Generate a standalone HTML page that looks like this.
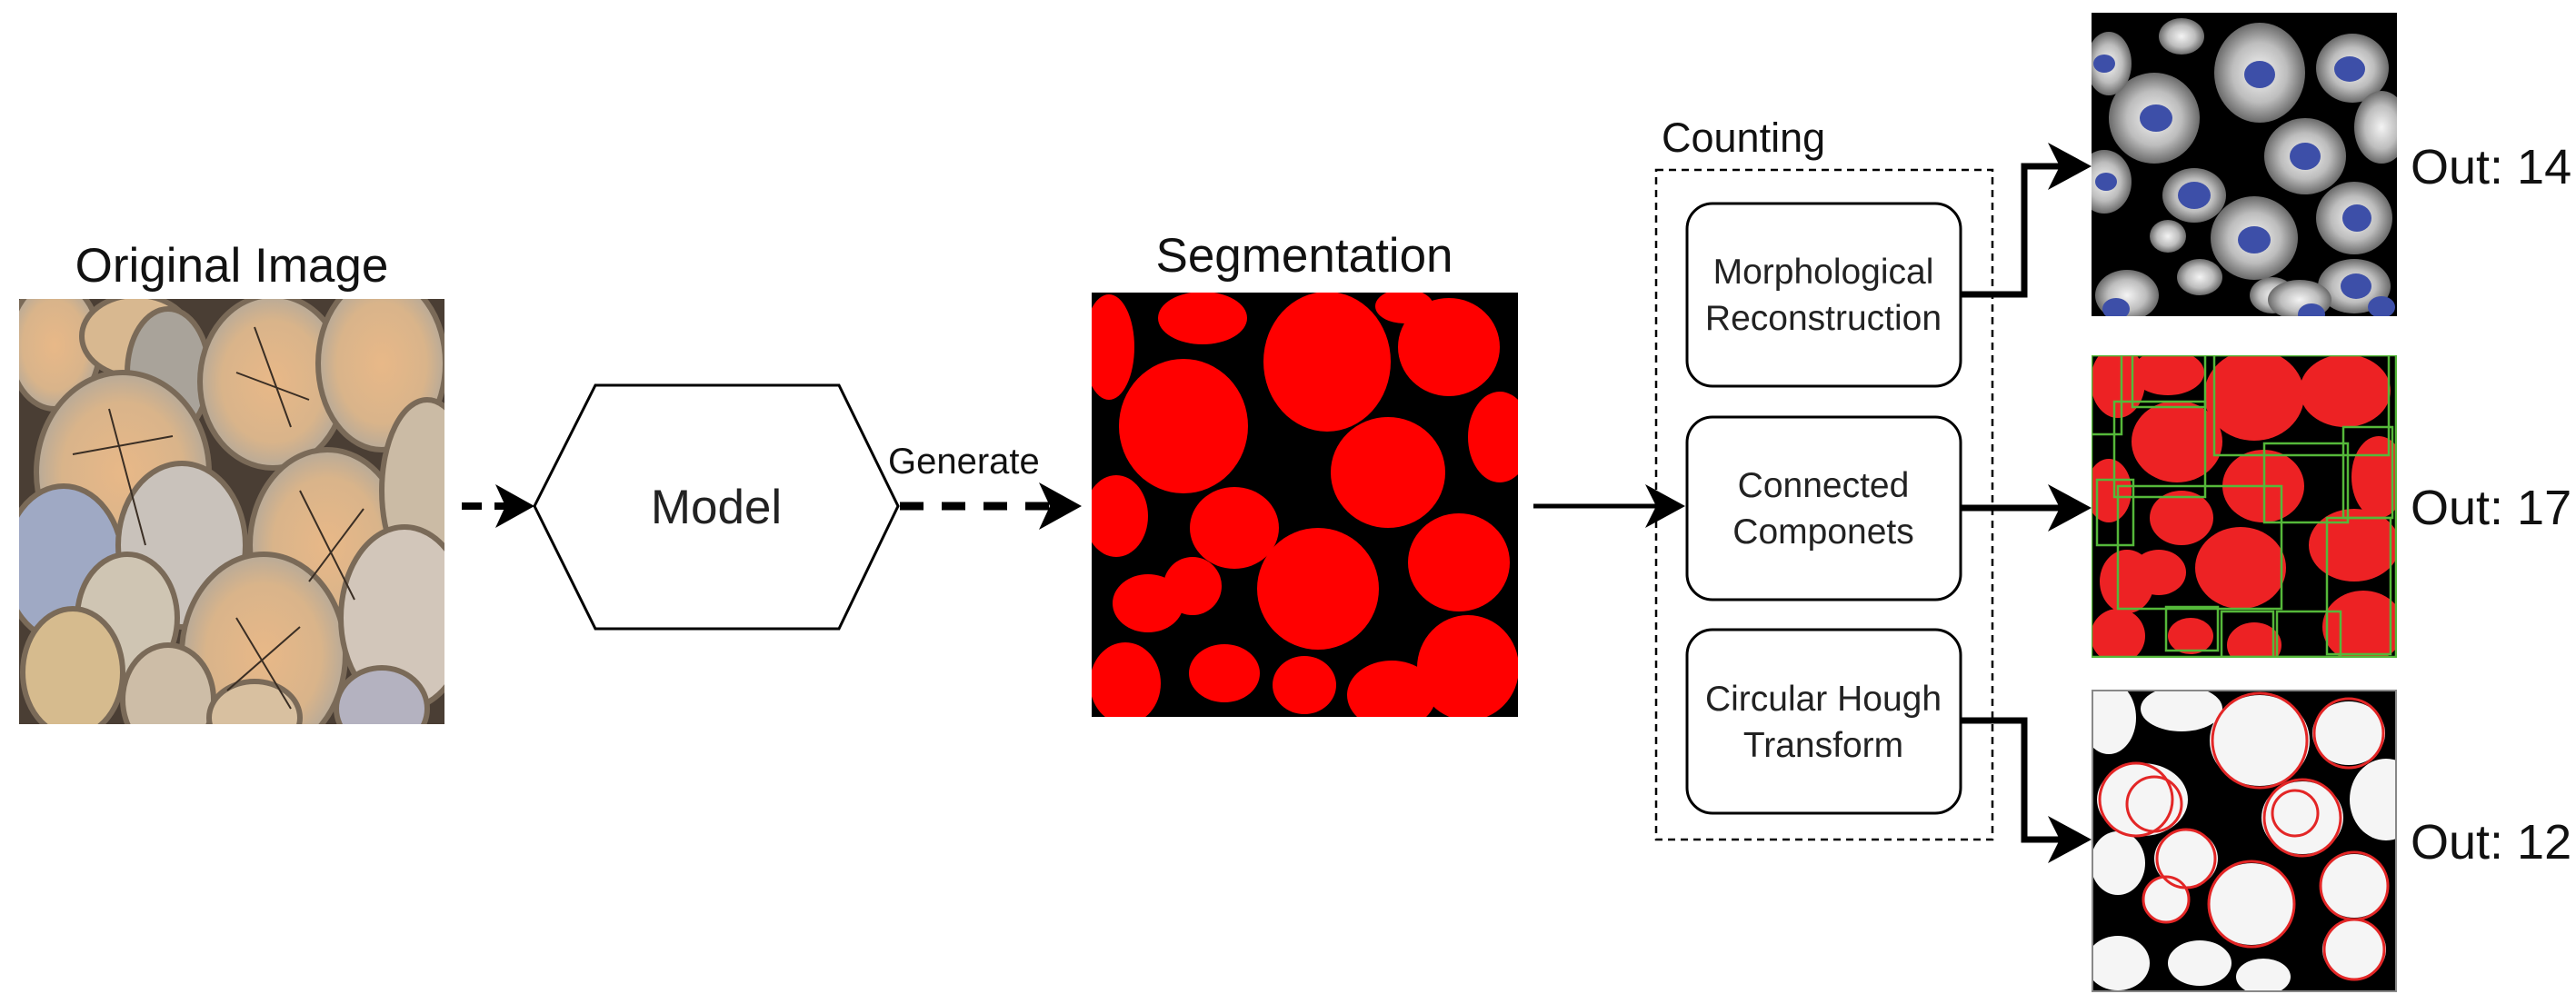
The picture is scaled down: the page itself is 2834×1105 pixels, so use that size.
<!DOCTYPE html>
<html><head><meta charset="utf-8">
<style>html,body{margin:0;padding:0;background:#fff;width:2834px;height:1105px;overflow:hidden}</style>
</head><body>
<svg width="2834" height="1105" viewBox="0 0 2834 1105" xmlns="http://www.w3.org/2000/svg" font-family="Liberation Sans, Arial, sans-serif">
<defs>
<radialGradient id="gg"><stop offset="0" stop-color="#f4f4f4"/><stop offset="0.6" stop-color="#bdbdbd"/><stop offset="1" stop-color="#6a6a6a"/></radialGradient>
<radialGradient id="wood"><stop offset="0" stop-color="#e8b888"/><stop offset="0.7" stop-color="#d9b48a"/><stop offset="1" stop-color="#b8aa98"/></radialGradient>
<clipPath id="c1"><rect x="21" y="329" width="468" height="468"/></clipPath>
<clipPath id="c2"><rect x="1201" y="322" width="469" height="467"/></clipPath>
<clipPath id="c3"><rect x="2301" y="14" width="336" height="334"/></clipPath>
<clipPath id="c4"><rect x="2301" y="391" width="336" height="333"/></clipPath>
<clipPath id="c5"><rect x="2301" y="759" width="336" height="333"/></clipPath>
</defs>

<!-- Original image -->
<text x="255" y="310" font-size="53" text-anchor="middle" fill="#111">Original Image</text>
<g clip-path="url(#c1)">
<rect x="21" y="329" width="468" height="468" fill="#4a3e34"/>
<g stroke="#7a6a58" stroke-width="6">
<ellipse cx="60" cy="380" rx="50" ry="70" fill="url(#wood)"/>
<ellipse cx="150" cy="370" rx="60" ry="45" fill="#d8b890"/>
<ellipse cx="185" cy="410" rx="45" ry="70" fill="#a9a39a"/>
<ellipse cx="300" cy="420" rx="80" ry="95" fill="url(#wood)"/>
<ellipse cx="420" cy="400" rx="70" ry="95" fill="url(#wood)"/>
<ellipse cx="135" cy="520" rx="95" ry="110" fill="url(#wood)"/>
<ellipse cx="360" cy="600" rx="85" ry="105" fill="url(#wood)"/>
<ellipse cx="470" cy="540" rx="50" ry="100" fill="#cbbba5"/>
<ellipse cx="70" cy="620" rx="65" ry="85" fill="#9fa9c4"/>
<ellipse cx="200" cy="600" rx="70" ry="90" fill="#c9c2bb"/>
<ellipse cx="290" cy="720" rx="90" ry="110" fill="url(#wood)"/>
<ellipse cx="445" cy="680" rx="70" ry="100" fill="#d2c6ba"/>
<ellipse cx="140" cy="680" rx="55" ry="70" fill="#cfc5b3"/>
<ellipse cx="80" cy="740" rx="55" ry="70" fill="#d6bb8e"/>
<ellipse cx="185" cy="770" rx="50" ry="60" fill="#cdbda7"/>
<ellipse cx="280" cy="790" rx="50" ry="40" fill="#d8c0a0"/>
<ellipse cx="420" cy="780" rx="50" ry="45" fill="#b4b2c0"/>
</g>
<g stroke="#3a2e24" stroke-width="2" fill="none">
<path d="M120 450 L160 600 M80 500 L190 480 M280 360 L320 470 M260 410 L340 440 M330 540 L390 660 M340 640 L400 560 M260 680 L320 780 M250 760 L330 690"/>
</g>
</g>

<!-- arrow 1 dashed -->
<line x1="508" y1="557" x2="570" y2="557" stroke="#000" stroke-width="8" stroke-dasharray="22,14"/>
<path d="M588 557 L545 533 L556 557 L545 581 Z" fill="#000"/>

<!-- Model hexagon -->
<polygon points="655,424 923,424 988,557 923,692 655,692 588,557" fill="#fff" stroke="#000" stroke-width="3"/>
<text x="788" y="576" font-size="53" text-anchor="middle" fill="#222">Model</text>

<!-- Generate arrow -->
<text x="977" y="521" font-size="40" fill="#111">Generate</text>
<line x1="990" y1="557" x2="1170" y2="557" stroke="#000" stroke-width="9" stroke-dasharray="26,20"/>
<path d="M1190 557 L1143 531 L1155 557 L1143 583 Z" fill="#000"/>

<!-- Segmentation -->
<text x="1435" y="299" font-size="53" text-anchor="middle" fill="#111">Segmentation</text>
<g clip-path="url(#c2)">
<rect x="1201" y="322" width="469" height="467" fill="#000"/>
<g fill="#ff0000">
<ellipse cx="1460" cy="398" rx="70" ry="77"/>
<ellipse cx="1302" cy="469" rx="71" ry="74"/>
<ellipse cx="1594" cy="382" rx="56" ry="54"/>
<ellipse cx="1527" cy="520" rx="63" ry="61"/>
<ellipse cx="1450" cy="648" rx="67" ry="67"/>
<ellipse cx="1605" cy="619" rx="56" ry="54"/>
<ellipse cx="1358" cy="581" rx="49" ry="45"/>
<ellipse cx="1228" cy="568" rx="35" ry="45"/>
<ellipse cx="1220" cy="382" rx="28" ry="58"/>
<ellipse cx="1323" cy="350" rx="49" ry="29"/>
<ellipse cx="1650" cy="481" rx="35" ry="50"/>
<ellipse cx="1615" cy="735" rx="56" ry="58"/>
<ellipse cx="1531" cy="765" rx="49" ry="38"/>
<ellipse cx="1435" cy="754" rx="35" ry="32"/>
<ellipse cx="1347" cy="741" rx="39" ry="32"/>
<ellipse cx="1238" cy="752" rx="39" ry="45"/>
<ellipse cx="1263" cy="664" rx="39" ry="32"/>
<ellipse cx="1312" cy="645" rx="32" ry="32"/>
<ellipse cx="1545" cy="337" rx="32" ry="19"/>
</g>
</g>

<!-- solid arrow -->
<line x1="1687" y1="557" x2="1835" y2="557" stroke="#000" stroke-width="5"/>
<path d="M1854 557 L1810 533 L1822 557 L1810 581 Z" fill="#000"/>

<!-- Counting group -->
<text x="1828" y="167" font-size="45" fill="#111">Counting</text>
<rect x="1822" y="187" width="370" height="737" fill="none" stroke="#000" stroke-width="2.5" stroke-dasharray="8,6"/>
<g fill="#fff" stroke="#000" stroke-width="3">
<rect x="1856" y="224" width="301" height="201" rx="28"/>
<rect x="1856" y="459" width="301" height="201" rx="28"/>
<rect x="1856" y="693" width="301" height="202" rx="28"/>
</g>
<g font-size="39" text-anchor="middle" fill="#222">
<text x="2006" y="312">Morphological</text>
<text x="2006" y="363">Reconstruction</text>
<text x="2006" y="547">Connected</text>
<text x="2006" y="598">Componets</text>
<text x="2006" y="782">Circular Hough</text>
<text x="2006" y="833">Transform</text>
</g>

<!-- connectors right -->
<g fill="none" stroke="#000" stroke-width="7">
<polyline points="2157,324 2227,324 2227,183 2282,183"/>
<line x1="2157" y1="559" x2="2282" y2="559"/>
<polyline points="2157,793 2227,793 2227,924 2282,924"/>
</g>
<g fill="#000">
<path d="M2301 183 L2253 157 L2266 183 L2253 209 Z"/>
<path d="M2301 559 L2253 533 L2266 559 L2253 585 Z"/>
<path d="M2301 924 L2253 898 L2266 924 L2253 950 Z"/>
</g>

<!-- image 1 -->
<g clip-path="url(#c3)">
<rect x="2301" y="14" width="336" height="334" fill="#000"/>
<g fill="url(#gg)">
<ellipse cx="2486" cy="80" rx="50" ry="55"/>
<ellipse cx="2588" cy="75" rx="40" ry="38"/>
<ellipse cx="2370" cy="130" rx="50" ry="50"/>
<ellipse cx="2536" cy="172" rx="45" ry="42"/>
<ellipse cx="2620" cy="140" rx="30" ry="40"/>
<ellipse cx="2315" cy="200" rx="30" ry="35"/>
<ellipse cx="2414" cy="215" rx="35" ry="30"/>
<ellipse cx="2480" cy="262" rx="48" ry="46"/>
<ellipse cx="2590" cy="240" rx="42" ry="40"/>
<ellipse cx="2385" cy="260" rx="20" ry="18"/>
<ellipse cx="2420" cy="305" rx="25" ry="20"/>
<ellipse cx="2500" cy="325" rx="25" ry="20"/>
<ellipse cx="2340" cy="325" rx="35" ry="28"/>
<ellipse cx="2590" cy="315" rx="40" ry="30"/>
<ellipse cx="2400" cy="40" rx="25" ry="20"/>
<ellipse cx="2320" cy="70" rx="25" ry="35"/>
<ellipse cx="2530" cy="330" rx="35" ry="22"/>
</g>
<g fill="#3d4fa8">
<ellipse cx="2315" cy="70" rx="12" ry="10"/>
<ellipse cx="2486" cy="82" rx="17" ry="15"/>
<ellipse cx="2585" cy="76" rx="17" ry="14"/>
<ellipse cx="2372" cy="130" rx="18" ry="15"/>
<ellipse cx="2536" cy="172" rx="17" ry="15"/>
<ellipse cx="2317" cy="200" rx="12" ry="10"/>
<ellipse cx="2414" cy="215" rx="18" ry="15"/>
<ellipse cx="2480" cy="264" rx="18" ry="15"/>
<ellipse cx="2593" cy="240" rx="16" ry="15"/>
<ellipse cx="2328" cy="340" rx="15" ry="12"/>
<ellipse cx="2543" cy="346" rx="15" ry="12"/>
<ellipse cx="2592" cy="315" rx="17" ry="14"/>
<ellipse cx="2620" cy="338" rx="15" ry="12"/>
</g>
</g>

<!-- image 2 -->
<g clip-path="url(#c4)">
<rect x="2301" y="391" width="336" height="333" fill="#000"/>
<g fill="#ed2224">
<ellipse cx="2330" cy="420" rx="30" ry="40"/>
<ellipse cx="2385" cy="410" rx="40" ry="25"/>
<ellipse cx="2395" cy="486" rx="50" ry="45"/>
<ellipse cx="2480" cy="435" rx="55" ry="50"/>
<ellipse cx="2580" cy="430" rx="50" ry="40"/>
<ellipse cx="2490" cy="535" rx="45" ry="40"/>
<ellipse cx="2617" cy="525" rx="30" ry="45"/>
<ellipse cx="2320" cy="540" rx="25" ry="35"/>
<ellipse cx="2400" cy="570" rx="35" ry="30"/>
<ellipse cx="2465" cy="625" rx="50" ry="45"/>
<ellipse cx="2590" cy="600" rx="50" ry="40"/>
<ellipse cx="2375" cy="630" rx="30" ry="25"/>
<ellipse cx="2340" cy="640" rx="30" ry="35"/>
<ellipse cx="2330" cy="700" rx="30" ry="30"/>
<ellipse cx="2410" cy="700" rx="25" ry="20"/>
<ellipse cx="2480" cy="710" rx="30" ry="25"/>
<ellipse cx="2600" cy="690" rx="45" ry="40"/>
</g>
<g fill="none" stroke="#55b83a" stroke-width="2.5">
<rect x="2301" y="391" width="335" height="332"/>
<rect x="2301" y="391" width="33" height="87"/>
<rect x="2346" y="391" width="80" height="57"/>
<rect x="2326" y="442" width="100" height="105"/>
<rect x="2436" y="391" width="192" height="110"/>
<rect x="2491" y="488" width="92" height="87"/>
<rect x="2578" y="470" width="54" height="100"/>
<rect x="2307" y="528" width="40" height="72"/>
<rect x="2330" y="535" width="180" height="135"/>
<rect x="2383" y="668" width="57" height="48"/>
<rect x="2444" y="673" width="57" height="50"/>
<rect x="2505" y="673" width="70" height="50"/>
<rect x="2560" y="570" width="70" height="150"/>
</g>
</g>

<!-- image 3 -->
<g clip-path="url(#c5)">
<rect x="2301" y="759" width="336" height="333" fill="#000"/>
<g fill="#f5f5f5">
<ellipse cx="2320" cy="790" rx="30" ry="40"/>
<ellipse cx="2400" cy="780" rx="45" ry="25"/>
<ellipse cx="2486" cy="815" rx="55" ry="50"/>
<ellipse cx="2584" cy="807" rx="40" ry="35"/>
<ellipse cx="2357" cy="880" rx="50" ry="40"/>
<ellipse cx="2533" cy="900" rx="45" ry="40"/>
<ellipse cx="2625" cy="880" rx="40" ry="45"/>
<ellipse cx="2330" cy="950" rx="30" ry="35"/>
<ellipse cx="2405" cy="945" rx="35" ry="32"/>
<ellipse cx="2383" cy="990" rx="25" ry="25"/>
<ellipse cx="2477" cy="995" rx="48" ry="45"/>
<ellipse cx="2590" cy="975" rx="38" ry="35"/>
<ellipse cx="2590" cy="1045" rx="35" ry="32"/>
<ellipse cx="2330" cy="1060" rx="35" ry="30"/>
<ellipse cx="2420" cy="1060" rx="35" ry="25"/>
<ellipse cx="2490" cy="1075" rx="30" ry="20"/>
</g>
<g fill="none" stroke="#e32626" stroke-width="3">
<circle cx="2486" cy="815" r="52"/>
<circle cx="2584" cy="807" r="38"/>
<circle cx="2350" cy="880" r="40"/>
<circle cx="2370" cy="885" r="30"/>
<circle cx="2533" cy="900" r="42"/>
<circle cx="2525" cy="895" r="25"/>
<circle cx="2405" cy="945" r="32"/>
<circle cx="2383" cy="990" r="25"/>
<circle cx="2477" cy="995" r="47"/>
<circle cx="2590" cy="975" r="37"/>
<circle cx="2590" cy="1045" r="33"/>
</g>
<rect x="2302" y="760" width="334" height="331" fill="none" stroke="#888" stroke-width="2"/>
</g>

<!-- Out labels -->
<g font-size="54" fill="#111">
<text x="2652" y="202">Out: 14</text>
<text x="2652" y="577">Out: 17</text>
<text x="2652" y="945">Out: 12</text>
</g>
</svg>
</body></html>
